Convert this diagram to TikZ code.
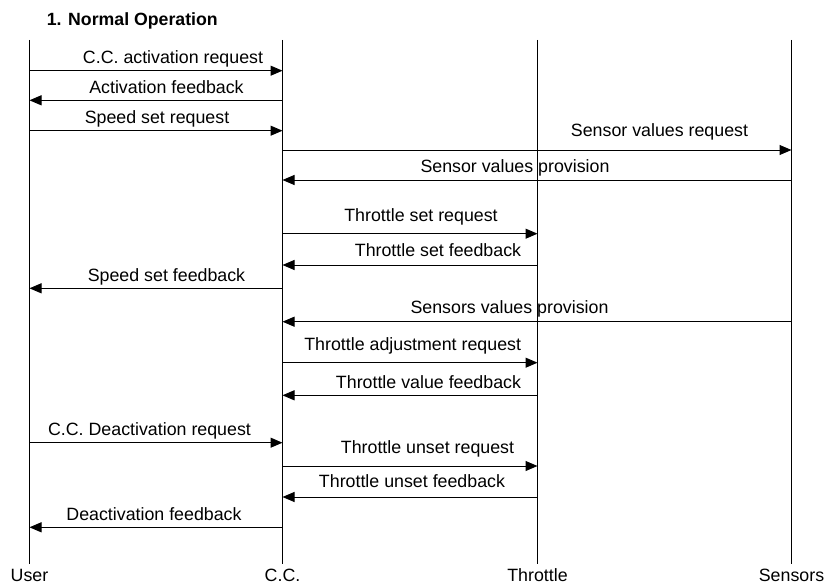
\documentclass[tikz,border=0pt]{standalone}
\usepackage{fontspec}
\setmainfont{Liberation Sans}
\usetikzlibrary{arrows.meta}
\begin{document}
\begin{tikzpicture}[x=1pt,y=-1pt,
  life/.style={line width=1pt,black},
  msg/.style={line width=1pt,black,-{Triangle[length=12pt,width=10pt]}},
  lbl/.style={anchor=base,inner sep=0pt,font=\fontsize{17.8}{21}\selectfont},
  actor/.style={anchor=base,inner sep=0pt,font=\fontsize{17.8}{21}\selectfont},
  ttl/.style={anchor=base west,inner sep=0pt,font=\fontsize{17.7}{21}\selectfont\bfseries}]
\useasboundingbox (0,0) rectangle (824,586);
\node[ttl] (title) at (46.7,26) {1. Normal Operation};
% lifelines
\coordinate (Ut) at (29.5,40);  \coordinate (Ub) at (29.5,564);
\coordinate (Ct) at (282.5,40); \coordinate (Cb) at (282.5,564);
\coordinate (Tt) at (537.5,40); \coordinate (Tb) at (537.5,564);
\coordinate (St) at (791.5,40); \coordinate (Sb) at (791.5,564);
\draw[life] (Ut) -- (Ub);
\draw[life] (Ct) -- (Cb);
\draw[life] (Tt) -- (Tb);
\draw[life] (St) -- (Sb);
\node[actor] (U) at (29.5,581) {User};
\node[actor] (C) at (282.5,581) {C.C.};
\node[actor] (T) at (537.5,581) {Throttle};
\node[actor] (S) at (791.5,581) {Sensors};
% messages
\coordinate (a1) at (29.5,70.7);   \coordinate (b1) at (282.5,70.7);
\draw[msg] (a1) -- (b1);
\node[lbl] (l1) at (173,63.3) {C.C. activation request};
\coordinate (a2) at (282.5,100.3); \coordinate (b2) at (29.5,100.3);
\draw[msg] (a2) -- (b2);
\node[lbl] (l2) at (166.5,93.3) {Activation feedback};
\coordinate (a3) at (29.5,130.7);  \coordinate (b3) at (282.5,130.7);
\draw[msg] (a3) -- (b3);
\node[lbl] (l3) at (157,123.3) {Speed set request};
\coordinate (a4) at (282.5,150);   \coordinate (b4) at (791.5,150);
\draw[msg] (a4) -- (b4);
\node[lbl] (l4) at (659.5,136.7) {Sensor values request};
\coordinate (a5) at (791.5,180);   \coordinate (b5) at (282.5,180);
\draw[msg] (a5) -- (b5);
\node[lbl] (l5) at (515,172) {Sensor values provision};
\coordinate (a6) at (282.5,233.7); \coordinate (b6) at (537.5,233.7);
\draw[msg] (a6) -- (b6);
\node[lbl] (l6) at (421,221) {Throttle set request};
\coordinate (a7) at (537.5,265);   \coordinate (b7) at (282.5,265);
\draw[msg] (a7) -- (b7);
\node[lbl] (l7) at (438,256.7) {Throttle set feedback};
\coordinate (a8) at (282.5,288.3); \coordinate (b8) at (29.5,288.3);
\draw[msg] (a8) -- (b8);
\node[lbl] (l8) at (166.5,281) {Speed set feedback};
\coordinate (a9) at (791.5,321.7); \coordinate (b9) at (282.5,321.7);
\draw[msg] (a9) -- (b9);
\node[lbl] (l9) at (509.5,313) {Sensors values provision};
\coordinate (a10) at (282.5,362.7); \coordinate (b10) at (537.5,362.7);
\draw[msg] (a10) -- (b10);
\node[lbl] (l10) at (412.7,350) {Throttle adjustment request};
\coordinate (a11) at (537.5,395.3); \coordinate (b11) at (282.5,395.3);
\draw[msg] (a11) -- (b11);
\node[lbl] (l11) at (428.5,388.3) {Throttle value feedback};
\coordinate (a12) at (29.5,442.7);  \coordinate (b12) at (282.5,442.7);
\draw[msg] (a12) -- (b12);
\node[lbl] (l12) at (149.5,435) {C.C. Deactivation request};
\coordinate (a13) at (282.5,466);   \coordinate (b13) at (537.5,466);
\draw[msg] (a13) -- (b13);
\node[lbl] (l13) at (427.5,453.3) {Throttle unset request};
\coordinate (a14) at (537.5,497);   \coordinate (b14) at (282.5,497);
\draw[msg] (a14) -- (b14);
\node[lbl] (l14) at (412,487.3) {Throttle unset feedback};
\coordinate (a15) at (282.5,527.3); \coordinate (b15) at (29.5,527.3);
\draw[msg] (a15) -- (b15);
\node[lbl] (l15) at (154,520) {Deactivation feedback};
\end{tikzpicture}
\end{document}
